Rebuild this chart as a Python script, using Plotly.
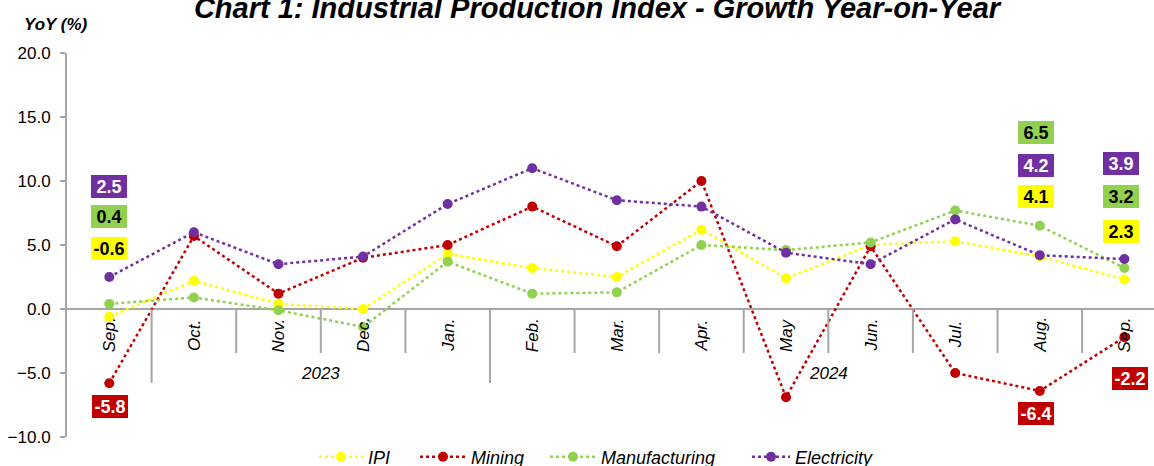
import plotly.graph_objects as go

months = ["Sep.", "Oct.", "Nov.", "Dec.", "Jan.", "Feb.", "Mar.", "Apr.", "May", "Jun.", "Jul.", "Aug.", "Sep."]
years = ["2023", "2024"]
ipi = [-0.6, 2.2, 0.4, 0.0, 4.3, 3.2, 2.5, 6.2, 2.4, 5.0, 5.3, 4.1, 2.3]
mining = [-5.8, 5.7, 1.2, 4.0, 5.0, 8.0, 4.9, 10.0, -6.9, 4.9, -5.0, -6.4, -2.2]
manufacturing = [0.4, 0.9, -0.1, -1.4, 3.7, 1.2, 1.3, 5.0, 4.6, 5.2, 7.7, 6.5, 3.2]
electricity = [2.5, 6.0, 3.5, 4.1, 8.2, 11.0, 8.5, 8.0, 4.4, 3.5, 7.0, 4.2, 3.9]

x = list(range(len(months)))
FONT = "Liberation Sans, Arial, sans-serif"
GRAY = "#a6a6a6"
W, H = 1154, 466
L, T, B = 67, 53, 29

series = [
    ("IPI", ipi, "#FFFF00", "black"),
    ("Mining", mining, "#C00000", "white"),
    ("Manufacturing", manufacturing, "#92D050", "black"),
    ("Electricity", electricity, "#7030A0", "white"),
]
legend_ids = ["legend", "legend2", "legend3", "legend4"]
legend_x_px = [314, 415, 545, 747]
legend_item_w = [44, 46, 46, 38]

fig = go.Figure()
for (name, vals, color, _), lid in zip(series, legend_ids):
    fig.add_trace(go.Scatter(
        x=x, y=vals, name=name, mode="lines+markers",
        line=dict(color=color, width=2.5, dash="dot"),
        marker=dict(color=color, size=10),
        legend=lid,
    ))

# data label placement: (series index, point index, xshift, yshift)
label_spec = [
    (3, 0, 0, 91), (2, 0, 0, 87), (0, 0, 0, 68), (1, 0, 1, -23),
    (2, 11, -4, 93), (3, 11, -4, 90), (0, 11, -4, 60), (1, 11, -4, -23),
    (3, 12, -3, 96), (2, 12, -3, 72), (0, 12, -3, 48), (1, 12, 6, -41),
]
annotations = []
for si, pi, xs, ys in label_spec:
    name, vals, color, tcolor = series[si]
    annotations.append(dict(
        x=x[pi], y=vals[pi], xref="x", yref="y", xshift=xs, yshift=ys,
        text=f"<b>{vals[pi]:.1f}</b>", showarrow=False,
        font=dict(family=FONT, size=18, color=tcolor),
        bgcolor=color, borderwidth=0, borderpad=1, width=34, height=21,
    ))

# month labels
for i, m in enumerate(months):
    annotations.append(dict(
        x=x[i], y=0, xref="x", yref="y", yshift=-26, yanchor="middle",
        text=m, textangle=-90, showarrow=False,
        font=dict(family=FONT, size=17, color="black", style="italic"),
    ))

# year labels and dividers
year_bounds = [(0.5, 4.5), (4.5, 12.5)]
for yr, (a, b) in zip(years, year_bounds):
    annotations.append(dict(
        x=(a + b) / 2, y=0, xref="x", yref="y", yshift=-64, yanchor="middle",
        text=yr, showarrow=False,
        font=dict(family=FONT, size=17, color="black", style="italic"),
    ))

shapes = []
long_bounds = {0.5, 4.5}
for i in range(len(months) - 1):
    bx = i + 0.5
    shapes.append(dict(
        type="line", xref="x", yref="y", x0=bx, x1=bx,
        ysizemode="pixel", yanchor=0, y0=0, y1=-74 if bx in long_bounds else -44,
        line=dict(color=GRAY, width=2),
    ))

plot_w = W - L
plot_h = H - T - B
annotations.append(dict(
    x=(56 - L) / plot_w, y=(H - B - 24) / plot_h, xref="paper", yref="paper",
    xanchor="center", yanchor="middle", text="<b><i>YoY (%)</i></b>",
    showarrow=False, font=dict(family=FONT, size=17, color="black"),
))

legends = {}
for lid, lx, iw in zip(legend_ids, legend_x_px, legend_item_w):
    legends[lid] = dict(
        orientation="h", x=lx / W, xref="container", xanchor="left",
        y=(H - 457) / H, yref="container", yanchor="middle",
        font=dict(family=FONT, size=18, color="black", style="italic"),
        bgcolor="rgba(0,0,0,0)", itemwidth=iw,
    )

fig.update_layout(
    width=W, height=H,
    margin=dict(l=L, r=0, t=T, b=B, autoexpand=False),
    paper_bgcolor="white", plot_bgcolor="white",
    title=dict(
        text="<b><i>Chart 1: Industrial Production Index - Growth Year-on-Year</i></b>",
        x=597 / W, xref="container", xanchor="center",
        y=1 - 8 / H, yref="container", yanchor="middle",
        font=dict(family=FONT, size=29, color="black"),
    ),
    xaxis=dict(range=[-0.5, 12.35], showticklabels=False, showgrid=False,
               zeroline=False, showline=False, ticks="", automargin=False),
    yaxis=dict(range=[-10, 20], dtick=5, tickformat=".1f", showgrid=False,
               showline=True, linecolor=GRAY, linewidth=2,
               ticks="outside", ticklen=5, tickwidth=2, tickcolor=GRAY,
               ticklabelstandoff=6, automargin=False,
               zeroline=True, zerolinecolor=GRAY, zerolinewidth=2,
               tickfont=dict(family=FONT, size=17, color="black")),
    showlegend=True,
    annotations=annotations,
    shapes=shapes,
    **legends,
)

fig.write_html(
    "out.html",
    config={"displayModeBar": False},
    post_script="document.body.style.margin='0';document.body.style.overflow='hidden';",
)
